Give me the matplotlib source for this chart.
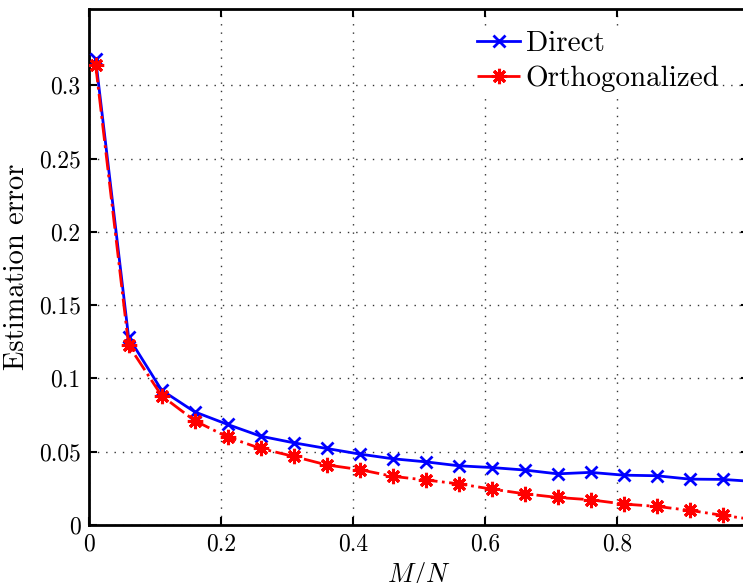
import numpy as np
import matplotlib
matplotlib.use("Agg")
import matplotlib.pyplot as plt
from matplotlib.ticker import FormatStrFormatter

plt.rcParams['font.family'] = ['cmr10', 'DejaVu Serif']
plt.rcParams['mathtext.fontset'] = 'cm'
plt.rcParams['axes.formatter.use_mathtext'] = True

# Data
ratio = [0.01, 0.06, 0.11, 0.16, 0.21, 0.26, 0.31, 0.36, 0.41, 0.46, 0.51,
         0.56, 0.61, 0.66, 0.71, 0.76, 0.81, 0.86, 0.91, 0.96, 1.01]
err_direct = [0.318, 0.128, 0.092, 0.0772, 0.0686, 0.0606, 0.0561, 0.0522,
              0.0484, 0.0452, 0.0431, 0.0404, 0.0392, 0.0375, 0.0349, 0.0359,
              0.0340, 0.0336, 0.0313, 0.0311, 0.0296]
err_orth = [0.314, 0.1226, 0.0882, 0.0712, 0.0600, 0.0522, 0.0468, 0.0410,
            0.0378, 0.0332, 0.0307, 0.0281, 0.0245, 0.0213, 0.0188, 0.0172,
            0.0143, 0.0127, 0.0100, 0.0066, 0.0035]

W, H = 743, 583
fig = plt.figure(figsize=(W / 100, H / 100), dpi=100)
ax = fig.add_axes([89 / W, 58 / H, 660 / W, 516 / H])

ax.plot(ratio, err_direct, color='blue', linestyle='-', linewidth=2,
        marker='x', markersize=9, markeredgewidth=2, label='Direct', zorder=3)
ax.plot(ratio, err_orth, color='red', linestyle='-.', linewidth=2,
        marker=(8, 2, 0), markersize=11, markeredgewidth=2.2,
        label='Orthogonalized', zorder=4)

ax.set_xlim(0, 1)
ax.set_ylim(0, 0.352)
ax.set_xticks([0, 0.2, 0.4, 0.6, 0.8, 1])
ax.set_yticks([0, 0.05, 0.1, 0.15, 0.2, 0.25, 0.3])
ax.xaxis.set_major_formatter(FormatStrFormatter('%g'))
ax.yaxis.set_major_formatter(FormatStrFormatter('%g'))
ax.tick_params(direction='in', length=6, width=1.5, top=True, right=True,
               labelsize=17, pad=6)
for s in ax.spines.values():
    s.set_linewidth(2)
ax.grid(True, linestyle=(0, (1, 5)), color='#333333', linewidth=1)

ax.set_xlabel('$M/N$', fontsize=19, labelpad=3)
ax.set_ylabel('Estimation error', fontsize=20.5, labelpad=6)

ax.legend(loc='upper left', bbox_to_anchor=(476 / W, 1 - 29 / H),
          bbox_transform=fig.transFigure, fontsize=21, frameon=True,
          facecolor='white', edgecolor='white', framealpha=1,
          handlelength=1.45, handletextpad=0.2, borderpad=0.05,
          labelspacing=0.3, borderaxespad=0)

fig.savefig('out.png', dpi=100)
